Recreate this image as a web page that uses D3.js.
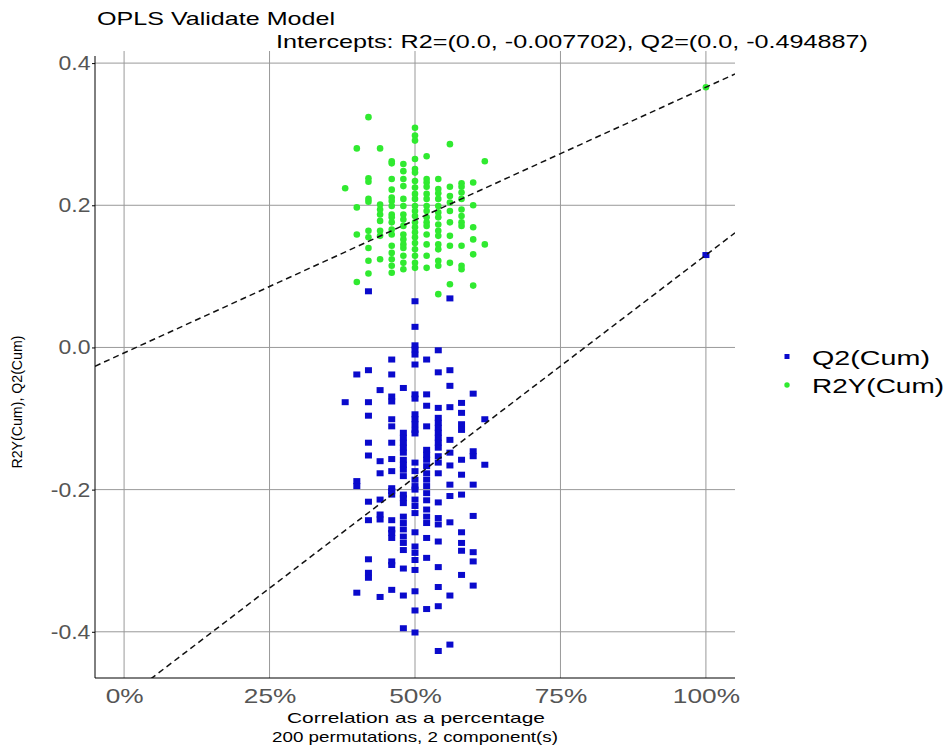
<!DOCTYPE html>
<meta charset="utf-8">
<style>
body { margin: 0; background: #fff; }
svg { font-family: "Liberation Sans", Arial, sans-serif; }
.grid line { stroke: #999; stroke-width: 1px; }
.axis path, .axis line { stroke: #000; }
.tick text { fill: #555; }
</style>
<svg width="950" height="749"></svg>
<script src="https://d3js.org/d3.v7.min.js"></script>
<script>

// permutation columns (% correlation) and read-off values
var cols = [38, 40, 42, 44, 46, 48, 50, 52, 54, 56, 58, 60, 62];

var r2Vals = [
  [0.224],
  [0.280, 0.197, 0.159, 0.092],
  [0.324, 0.238, 0.233, 0.209, 0.205, 0.164, 0.155, 0.140, 0.122, 0.104],
  [0.280, 0.201, 0.194, 0.187, 0.178, 0.164, 0.157, 0.124],
  [0.262, 0.259, 0.237, 0.222, 0.211, 0.206, 0.199, 0.187, 0.183, 0.176, 0.166, 0.159, 0.143, 0.133, 0.124, 0.115, 0.105],
  [0.258, 0.248, 0.237, 0.227, 0.209, 0.199, 0.187, 0.180, 0.171, 0.159, 0.152, 0.145, 0.140, 0.129, 0.119, 0.110],
  [0.309, 0.298, 0.291, 0.265, 0.251, 0.246, 0.234, 0.225, 0.216, 0.209, 0.199, 0.192, 0.185, 0.176, 0.169, 0.162, 0.155, 0.147, 0.138, 0.129, 0.119, 0.112],
  [0.269, 0.237, 0.232, 0.226, 0.216, 0.209, 0.199, 0.192, 0.183, 0.176, 0.171, 0.159, 0.145, 0.129, 0.112],
  [0.237, 0.223, 0.217, 0.209, 0.199, 0.190, 0.183, 0.173, 0.164, 0.157, 0.145, 0.138, 0.122, 0.115, 0.075],
  [0.286, 0.226, 0.213, 0.204, 0.192, 0.176, 0.157, 0.143, 0.119, 0.089],
  [0.231, 0.226, 0.218, 0.209, 0.194, 0.185, 0.176, 0.171, 0.143, 0.115, 0.110],
  [0.232, 0.200, 0.169, 0.152, 0.131, 0.087],
  [0.262, 0.145]
];

var q2Vals = [
  [-0.077],
  [-0.038, -0.188, -0.195, -0.345],
  [0.079, -0.032, -0.077, -0.096, -0.134, -0.152, -0.217, -0.243, -0.298, -0.317, -0.324],
  [-0.060, -0.160, -0.177, -0.214, -0.235, -0.242, -0.351],
  [-0.017, -0.038, -0.069, -0.076, -0.101, -0.111, -0.134, -0.157, -0.174, -0.198, -0.202, -0.207, -0.243, -0.256, -0.261, -0.268, -0.301, -0.306, -0.341],
  [-0.057, -0.120, -0.127, -0.134, -0.141, -0.148, -0.158, -0.165, -0.172, -0.181, -0.207, -0.212, -0.219, -0.238, -0.247, -0.256, -0.266, -0.275, -0.285, -0.311, -0.349, -0.395],
  [0.065, 0.029, 0.003, -0.003, -0.010, -0.024, -0.066, -0.072, -0.094, -0.101, -0.108, -0.116, -0.121, -0.162, -0.174, -0.186, -0.195, -0.200, -0.214, -0.223, -0.233, -0.260, -0.280, -0.289, -0.299, -0.313, -0.343, -0.370, -0.401],
  [-0.017, -0.066, -0.082, -0.111, -0.144, -0.151, -0.158, -0.167, -0.177, -0.186, -0.195, -0.205, -0.215, -0.228, -0.238, -0.247, -0.268, -0.296, -0.368],
  [-0.004, -0.035, -0.085, -0.099, -0.106, -0.113, -0.120, -0.127, -0.134, -0.141, -0.153, -0.162, -0.177, -0.218, -0.240, -0.249, -0.273, -0.309, -0.337, -0.364, -0.427],
  [0.069, -0.032, -0.054, -0.084, -0.130, -0.148, -0.166, -0.193, -0.209, -0.246, -0.349, -0.418],
  [-0.078, -0.092, -0.108, -0.116, -0.158, -0.179, -0.207, -0.260, -0.275, -0.286, -0.320],
  [-0.065, -0.146, -0.153, -0.193, -0.237, -0.288, -0.301, -0.335],
  [-0.101, -0.165]
];

// original model (100%)
var modelR2 = 0.366;
var modelQ2 = 0.130;

// regression intercepts
var r2Intercept = -0.007702;
var q2Intercept = -0.494887;

var xTicks = [0, 25, 50, 75, 100];
var yTicks = [-0.4, -0.2, 0.0, 0.2, 0.4];

var svg = d3.select("svg");

var x = d3.scaleLinear().domain([-5, 105]).range([95, 735]);
var y = d3.scaleLinear().domain([-0.465, 0.41]).range([678, 56]);

var r2Pts = [], q2Pts = [];
cols.forEach(function(c, i) {
  r2Vals[i].forEach(function(v) { r2Pts.push([c, v]); });
  q2Vals[i].forEach(function(v) { q2Pts.push([c, v]); });
});
r2Pts.push([100, modelR2]);
q2Pts.push([100, modelQ2]);

svg.append("defs").append("clipPath").attr("id", "clip")
  .append("rect")
    .attr("x", x(-5)).attr("y", y(0.41))
    .attr("width", x(105) - x(-5)).attr("height", y(-0.465) - y(0.41));

// grid
svg.append("g").attr("class", "grid")
  .selectAll("line.v").data(xTicks).enter().append("line")
    .attr("x1", x).attr("x2", x)
    .attr("y1", y(0.417)).attr("y2", y(-0.465));
svg.append("g").attr("class", "grid")
  .selectAll("line.h").data(yTicks).enter().append("line")
    .attr("x1", x(-5)).attr("x2", x(105))
    .attr("y1", y).attr("y2", y);

// points
var plot = svg.append("g").attr("clip-path", "url(#clip)");

plot.selectAll("circle.r2").data(r2Pts).enter().append("circle")
    .attr("cx", function(d) { return x(d[0]); })
    .attr("cy", function(d) { return y(d[1]); })
    .attr("r", 3.3)
    .attr("fill", "#30ea30");

plot.selectAll("rect.q2").data(q2Pts).enter().append("rect")
    .attr("x", function(d) { return x(d[0]) - 3.5; })
    .attr("y", function(d) { return y(d[1]) - 3; })
    .attr("width", 7).attr("height", 6)
    .attr("fill", "#0a0acc");

// regression lines through intercept and model point
function fitLine(b, end) {
  var m = (end - b) / 100;
  return [[-5, b - 5 * m], [105, b + 105 * m]];
}
var line = d3.line().x(function(d) { return x(d[0]); }).y(function(d) { return y(d[1]); });
[fitLine(r2Intercept, modelR2), fitLine(q2Intercept, modelQ2)].forEach(function(l) {
  plot.append("path")
      .attr("d", line(l))
      .attr("fill", "none")
      .attr("stroke", "#111")
      .attr("stroke-width", 1.5)
      .attr("stroke-dasharray", "6,4");
});

// axes
svg.append("g").attr("class", "axis")
    .attr("transform", "translate(" + x(-5) + ",0)")
    .call(d3.axisLeft(y).tickValues(yTicks).tickSize(3).tickPadding(1).tickFormat(function(d) { return d.toFixed(1); }))
    .call(function(g) { g.select(".domain").attr("d", "M0," + y(0.41) + "V" + y(-0.465)); })
    .selectAll("text")
      .attr("font-size", 20).attr("font-family", "Liberation Sans, Arial, sans-serif")
      .attr("transform", "scale(1.15,1)");

svg.append("g").attr("class", "axis")
    .attr("transform", "translate(0," + y(-0.465) + ")")
    .call(d3.axisBottom(x).tickValues(xTicks).tickSize(0).tickPadding(10).tickFormat(function(d) { return d + "%"; }))
    .call(function(g) { g.select(".domain").attr("d", "M" + x(-5) + ",0H" + x(105)); })
    .selectAll("text")
      .attr("font-size", 21).attr("font-family", "Liberation Sans, Arial, sans-serif")
      .attr("transform", "scale(1.25,1)");

// titles
svg.append("text").attr("x", 97).attr("y", 25).attr("font-size", 19)
    .attr("textLength", 238).attr("lengthAdjust", "spacingAndGlyphs")
    .text("OPLS Validate Model");
svg.append("text").attr("x", 276).attr("y", 48).attr("font-size", 19)
    .attr("textLength", 592).attr("lengthAdjust", "spacingAndGlyphs")
    .text("Intercepts: R2=(0.0, -0.007702), Q2=(0.0, -0.494887)");

svg.append("text").attr("x", 287).attr("y", 723).attr("font-size", 15)
    .attr("textLength", 258).attr("lengthAdjust", "spacingAndGlyphs")
    .text("Correlation as a percentage");
svg.append("text").attr("x", 272).attr("y", 742).attr("font-size", 15)
    .attr("textLength", 286).attr("lengthAdjust", "spacingAndGlyphs")
    .text("200 permutations, 2 component(s)");

svg.append("text")
    .attr("transform", "translate(22,402) rotate(-90)")
    .attr("text-anchor", "middle").attr("font-size", 14)
    .attr("textLength", 133).attr("lengthAdjust", "spacingAndGlyphs")
    .text("R2Y(Cum), Q2(Cum)");

// legend
var legend = svg.append("g").attr("transform", "translate(787,0)");
legend.append("rect").attr("x", -2.5).attr("y", 354).attr("width", 5).attr("height", 5).attr("fill", "#0a0acc");
legend.append("circle").attr("cx", 0).attr("cy", 385).attr("r", 2.7).attr("fill", "#30ea30");
legend.append("text").attr("x", 25).attr("y", 365).attr("font-size", 21)
    .attr("textLength", 118).attr("lengthAdjust", "spacingAndGlyphs").text("Q2(Cum)");
legend.append("text").attr("x", 25).attr("y", 393).attr("font-size", 21)
    .attr("textLength", 132).attr("lengthAdjust", "spacingAndGlyphs").text("R2Y(Cum)");

</script>
